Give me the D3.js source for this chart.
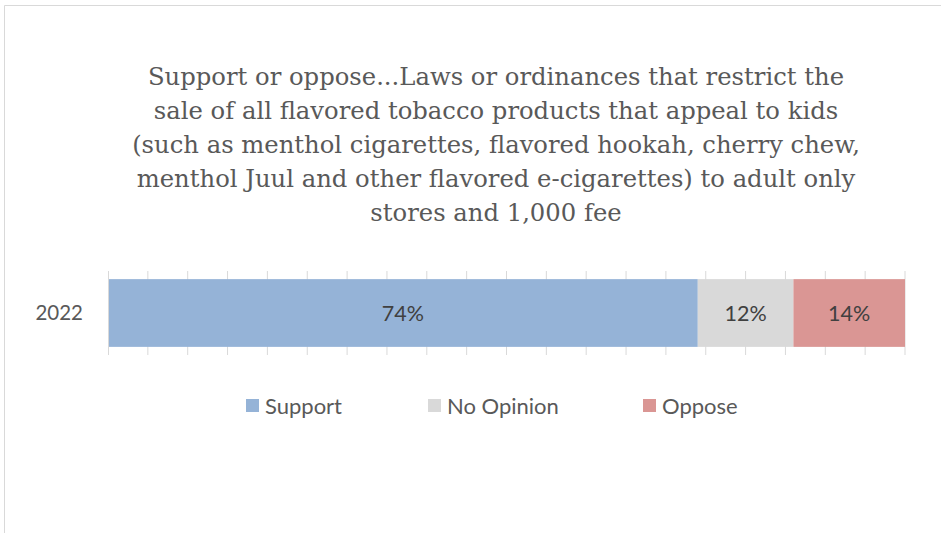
<!DOCTYPE html>
<html>
<head>
<meta charset="utf-8">
<script src="https://cdn.jsdelivr.net/npm/d3@7"></script>
<style>
  html, body { margin: 0; padding: 0; background: #fff; }
  svg { display: block; }
</style>
</head>
<body>
<svg id="chart" width="941" height="533"></svg>
<script>
// Survey responses for a single year, stacked to 100%
const categories = ["2022"];
const seriesNames = ["Support", "No Opinion", "Oppose"];
const seriesColors = ["#95b3d7", "#d9d9d9", "#da9694"];
const supportValues = [74];
const noOpinionValues = [12];
const opposeValues = [14];
const titleLines = [
  "Support or oppose...Laws or ordinances that restrict the",
  "sale of all flavored tobacco products that appeal to kids",
  "(such as menthol cigarettes, flavored hookah, cherry chew,",
  "menthol Juul and other flavored e-cigarettes) to adult only",
  "stores and 1,000 fee"
];

const svg = d3.select("#chart");
const textColor = "#595959";
const sansFont = "Lato, 'Open Sans', sans-serif";
const serifFont = "'DejaVu Serif', 'Liberation Serif', serif";

// Outer chart frame
svg.append("path")
  .attr("d", "M4.5,540 V5.5 H950")
  .attr("fill", "none")
  .attr("stroke", "#d9d9d9")
  .attr("stroke-width", 1);

// Title
const title = svg.append("text")
  .attr("text-anchor", "middle")
  .attr("fill", textColor)
  .attr("font-family", serifFont)
  .attr("font-size", 24);
titleLines.forEach((t, i) => {
  title.append("tspan").attr("x", 496).attr("y", 85 + i * 34).text(t);
});
// fit the widest line to the available title width
const widest = d3.max(title.selectAll("tspan").nodes(), n => n.getComputedTextLength());
title.attr("font-size", 24 * 728 / widest);

// Scales
const x = d3.scaleLinear().domain([0, 100]).range([108, 905]);
const y = d3.scaleBand().domain(categories).range([271, 355]).paddingInner(0).paddingOuter(0.12);

// Vertical gridlines every 5%
svg.append("g")
  .selectAll("line")
  .data(d3.range(5, 101, 5))
  .join("line")
  .attr("x1", d => x(d)).attr("x2", d => x(d))
  .attr("y1", 271).attr("y2", 355)
  .attr("stroke", "#d9d9d9")
  .attr("stroke-width", 1);

// Stacked data
const rows = categories.map((c, i) => ({
  cat: c,
  "Support": supportValues[i],
  "No Opinion": noOpinionValues[i],
  "Oppose": opposeValues[i]
}));
const stacked = d3.stack().keys(seriesNames)(rows);

const layers = svg.append("g")
  .selectAll("g")
  .data(stacked)
  .join("g")
  .attr("fill", (d, i) => seriesColors[i]);

layers.selectAll("rect")
  .data(d => d)
  .join("rect")
  .attr("x", d => x(d[0]))
  .attr("width", d => x(d[1]) - x(d[0]))
  .attr("y", d => y(d.data.cat))
  .attr("height", y.bandwidth());

// Value labels
layers.selectAll("text")
  .data(d => d.map(v => ({ v, key: d.key })))
  .join("text")
  .attr("x", d => (x(d.v[0]) + x(d.v[1])) / 2)
  .attr("y", d => y(d.v.data.cat) + y.bandwidth() / 2)
  .attr("dy", "0.35em")
  .attr("text-anchor", "middle")
  .attr("fill", "#404040")
  .attr("font-family", sansFont)
  .attr("font-size", 21.5)
  .text(d => d.v.data[d.key] + "%");

// Category axis
const yAxis = svg.append("g")
  .attr("transform", "translate(108,0)")
  .call(d3.axisLeft(y).tickSize(0).tickPadding(25));
yAxis.select(".domain").attr("stroke", "#d9d9d9").attr("d", "M0.5,271V355");
yAxis.selectAll("text")
  .attr("fill", textColor)
  .attr("font-family", sansFont)
  .attr("font-size", 20.5);

// Legend
const legendX = [246, 428, 643];
const legend = svg.append("g")
  .selectAll("g")
  .data(seriesNames)
  .join("g")
  .attr("transform", (d, i) => `translate(${legendX[i]},399)`);
legend.append("rect")
  .attr("width", 13).attr("height", 13)
  .attr("fill", (d, i) => seriesColors[i]);
legend.append("text")
  .attr("x", 19).attr("y", 7)
  .attr("dy", "0.35em")
  .attr("fill", textColor)
  .attr("font-family", sansFont)
  .attr("font-size", 22)
  .text(d => d);
</script>
</body>
</html>
